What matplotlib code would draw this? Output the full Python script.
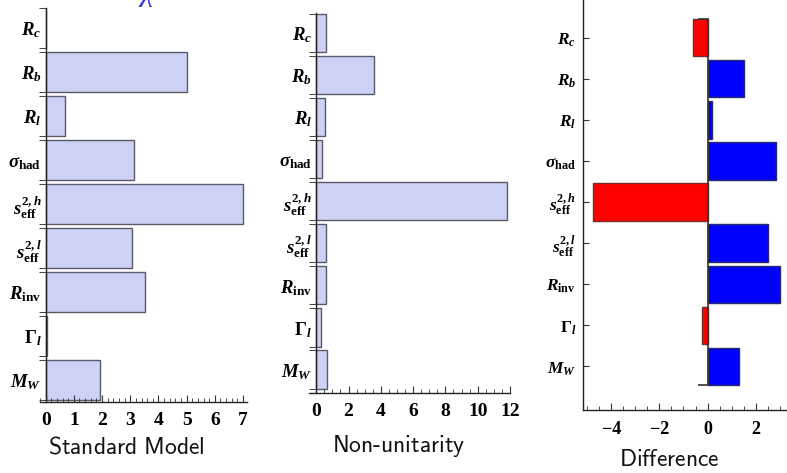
import numpy as np
import matplotlib
matplotlib.use("Agg")
import matplotlib.pyplot as plt
from matplotlib.ticker import MultipleLocator, FixedLocator
from matplotlib.font_manager import FontProperties

plt.rcParams['mathtext.fontset'] = 'custom'
plt.rcParams['mathtext.rm'] = 'Liberation Serif:bold'
plt.rcParams['mathtext.it'] = 'Liberation Serif:bold:italic'
plt.rcParams['mathtext.bf'] = 'Liberation Serif:bold'

# observables, top to bottom
labels = [r'$R_c$', r'$R_b$', r'$R_l$', r'$\sigma_{\mathrm{had}}$',
          r'$s^{2,h}_{\mathrm{eff}}$', r'$s^{2,l}_{\mathrm{eff}}$',
          r'$R_{\mathrm{inv}}$', r'$\Gamma_l$', r'$M_W$']

# chi^2 contributions
sm_vals = [0.0, 5.0, 0.70, 3.12, 7.0, 3.05, 3.52, 0.05, 1.93]
nu_vals = [0.60, 3.58, 0.53, 0.35, 11.8, 0.60, 0.60, 0.27, 0.64]
diff_vals = [-0.61, 1.50, 0.19, 2.82, -4.75, 2.51, 2.99, -0.22, 1.31]

titles = [r'$\mathsf{Standard\ Model}$', r'$\mathsf{Non\text{-}unitarity}$',
          r'$\mathsf{Difference}$']

W, H = 787, 473
fig = plt.figure(figsize=(W / 100, H / 100), dpi=100)

def px_axes(left, right, top, bottom):
    return fig.add_axes([left / W, 1 - bottom / H, (right - left) / W, (bottom - top) / H])

ypos = np.arange(len(labels), 0, -1)  # Rc at top
bar_h = 0.91
lav = '#ccd1f5'


def chi_panel(ax, vals, xlim, ylim, minor, ticks):
    ax.barh(ypos, vals, height=bar_h, color=lav, edgecolor='#5a5a66', linewidth=1.0)
    ax.set_xlim(*xlim)
    ax.set_ylim(*ylim)
    ax.spines['top'].set_visible(False)
    ax.spines['right'].set_visible(False)
    ax.spines['left'].set_position(('data', 0))
    for s in ['left', 'bottom']:
        ax.spines[s].set_color('#222222')
        ax.spines[s].set_linewidth(1.0)
    ax.set_yticks(ypos)
    ax.set_yticklabels(labels, fontsize=13.5)
    edges = np.concatenate([ypos - bar_h / 2, ypos + bar_h / 2])
    ax.yaxis.set_minor_locator(FixedLocator(edges))
    ax.tick_params(axis='y', which='major', length=0, pad=3)
    ax.tick_params(axis='y', which='minor', length=5, direction='out', color='#222222')
    ax.set_xticks(ticks)
    ax.xaxis.set_minor_locator(MultipleLocator(minor))
    ax.tick_params(axis='x', which='major', direction='in', length=5, pad=7, color='#333333')
    ax.tick_params(axis='x', which='minor', direction='in', length=3, color='#333333')
    for t in ax.get_xticklabels():
        t.set_fontproperties(FontProperties(family='Liberation Serif', weight='bold', size=14))


ax1 = px_axes(40, 247, 8, 402)
chi_panel(ax1, sm_vals, (-0.2, 7.14), (0.5, 9.455), 0.2, np.arange(0, 8, 1))

ax2 = px_axes(309, 510, 13, 393)
chi_panel(ax2, nu_vals, (-0.45, 12.0), (0.442, 9.468), 0.5, np.arange(0, 13, 2))

# difference panel
ax3 = px_axes(583, 787, 0, 410)
colors = ['#ff0000' if v < 0 else '#0000ff' for v in diff_vals]
edges3 = ['#7a2a2a' if v < 0 else '#2a2a6a' for v in diff_vals]
ax3.barh(ypos, diff_vals, height=bar_h, color=colors, edgecolor=edges3, linewidth=1.0)
ax3.set_xlim(-5.17, 3.295)
ax3.set_ylim(-0.06, 9.916)
ax3.spines['top'].set_visible(False)
ax3.spines['right'].set_visible(False)
for s in ['left', 'bottom']:
    ax3.spines[s].set_color('#222222')
    ax3.spines[s].set_linewidth(1.0)
ybot = ypos.min() - bar_h / 2
ytop = ypos.max() + bar_h / 2
ax3.plot([0, 0], [ybot, ytop], color='#333333', lw=1.2,
         marker=matplotlib.markers.TICKLEFT, markersize=7, markeredgewidth=1.2, zorder=3)
ax3.set_yticks(ypos)
ax3.set_yticklabels(labels, fontsize=12.5)
ax3.tick_params(axis='y', direction='in', length=4, pad=5, color='#333333')
ax3.set_xticks([-4, -2, 0, 2])
ax3.set_xticklabels(['\u22124', '\u22122', '0', '2'])
ax3.xaxis.set_minor_locator(MultipleLocator(0.5))
ax3.tick_params(axis='x', which='major', direction='in', length=5, pad=8, color='#333333')
ax3.tick_params(axis='x', which='minor', direction='in', length=3, color='#333333')
for t in ax3.get_xticklabels():
    t.set_fontproperties(FontProperties(family='Liberation Serif', weight='bold', size=13))

# panel captions
cap_x = [126, 399, 669]
cap_y = [453, 452, 466]
for txt, cx, cy in zip(titles, cap_x, cap_y):
    fig.text(cx / W, 1 - cy / H, txt, ha='center', va='baseline', fontsize=17,
             math_fontfamily='cm', color='#111111')

# chi symbol at the top, mostly above the canvas as in the original
fig.text(147 / W, 1 - 7 / H, '\u03c7', ha='center', va='bottom', fontsize=22,
         family='Liberation Serif', style='italic', color='#3b3bd0')

fig.savefig("out.png", dpi=100)
